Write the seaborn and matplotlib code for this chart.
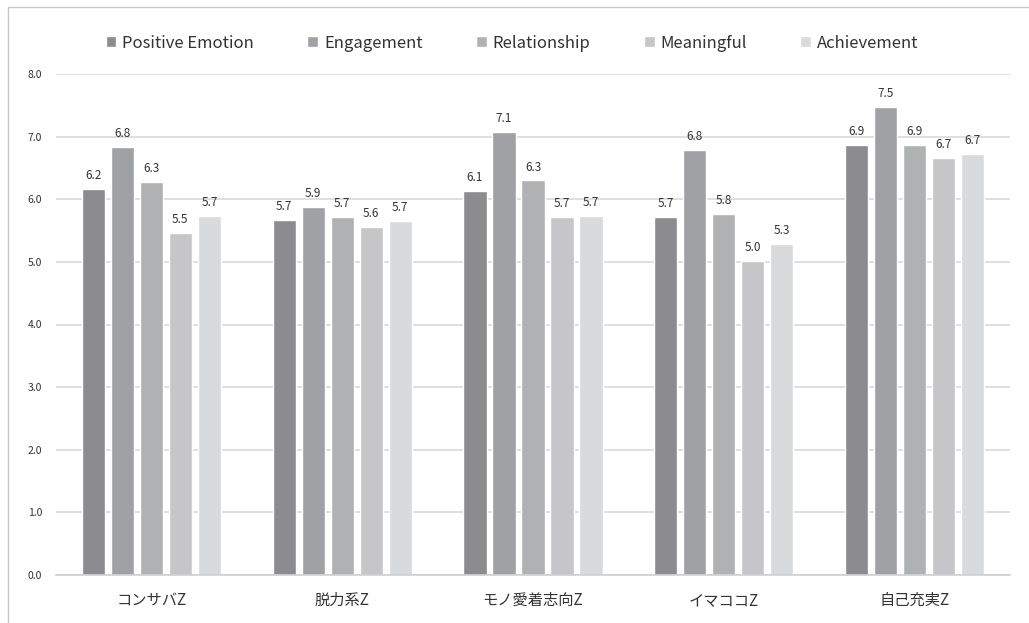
import matplotlib
matplotlib.use("Agg")
import matplotlib.pyplot as plt
import seaborn as sns
import pandas as pd
from matplotlib.patches import Rectangle

categories = ["コンサバZ", "脱力系Z", "モノ愛着志向Z", "イマココZ", "自己充実Z"]
series = ["Positive Emotion", "Engagement", "Relationship", "Meaningful", "Achievement"]
positive_emotion = [6.16, 5.67, 6.13, 5.72, 6.86]
engagement = [6.83, 5.88, 7.07, 6.78, 7.47]
relationship = [6.27, 5.72, 6.30, 5.76, 6.86]
meaningful = [5.46, 5.56, 5.72, 5.01, 6.66]
achievement = [5.73, 5.66, 5.73, 5.29, 6.73]
y_ticks = [0, 1, 2, 3, 4, 5, 6, 7, 8]

colors = ["#8c8c8e", "#a0a1a4", "#b0b1b3", "#c6c6c8", "#d9dadc"]

values = [positive_emotion, engagement, relationship, meaningful, achievement]
rows = []
for s, vals in zip(series, values):
    for c, v in zip(categories, vals):
        rows.append({"category": c, "series": s, "value": v})
df = pd.DataFrame(rows)

sns.set_theme(style="white")
plt.rcParams["font.family"] = ["Noto Sans CJK JP", "DejaVu Sans"]

fig = plt.figure(figsize=(10.29, 6.23), dpi=100)
ax = fig.add_axes([56 / 1029, 48 / 623, (1010 - 56) / 1029, (575 - 74) / 623])

sns.barplot(data=df, x="category", y="value", hue="series", order=categories,
            hue_order=series, palette=colors, width=0.76, gap=0.2,
            errorbar=None, ax=ax, saturation=1, legend=True)

for cont in ax.containers:
    ax.bar_label(cont, fmt="%.1f", padding=5, fontsize=8.5, color="#333333")

ax.set_ylim(0, 8)
ax.set_yticks(y_ticks)
ax.set_yticklabels([f"{t:.1f}" for t in y_ticks], fontsize=7.5, color="#333333")
ax.set_xlim(-0.5, len(categories) - 0.5)
ax.set_xlabel("")
ax.set_ylabel("")
ax.tick_params(axis="x", labelsize=11, colors="#333333", pad=12, length=0)
ax.tick_params(axis="y", length=0, pad=10)
ax.yaxis.grid(True, color="#d9d9d9", linewidth=1.2)
ax.set_axisbelow(True)
for sp in ["top", "right", "left"]:
    ax.spines[sp].set_visible(False)
ax.spines["bottom"].set_color("#d0d0d0")
ax.spines["bottom"].set_linewidth(1.2)

handles, labels = ax.get_legend_handles_labels()
ax.legend(handles, labels, loc="center", bbox_to_anchor=(0.478, (623 - 43 - 48) / (575 - 74)),
          ncol=5, frameon=False, fontsize=12, handlelength=0.65, handleheight=0.65,
          handletextpad=0.35, columnspacing=3.2, labelcolor="#333333")

fig.patches.append(Rectangle((8 / 1029, -0.01), 1.1, (623 - 7) / 623 + 0.01,
                             transform=fig.transFigure, fill=False,
                             edgecolor="#c8c8c8", linewidth=1.0))

fig.savefig("out.png", dpi=100)
